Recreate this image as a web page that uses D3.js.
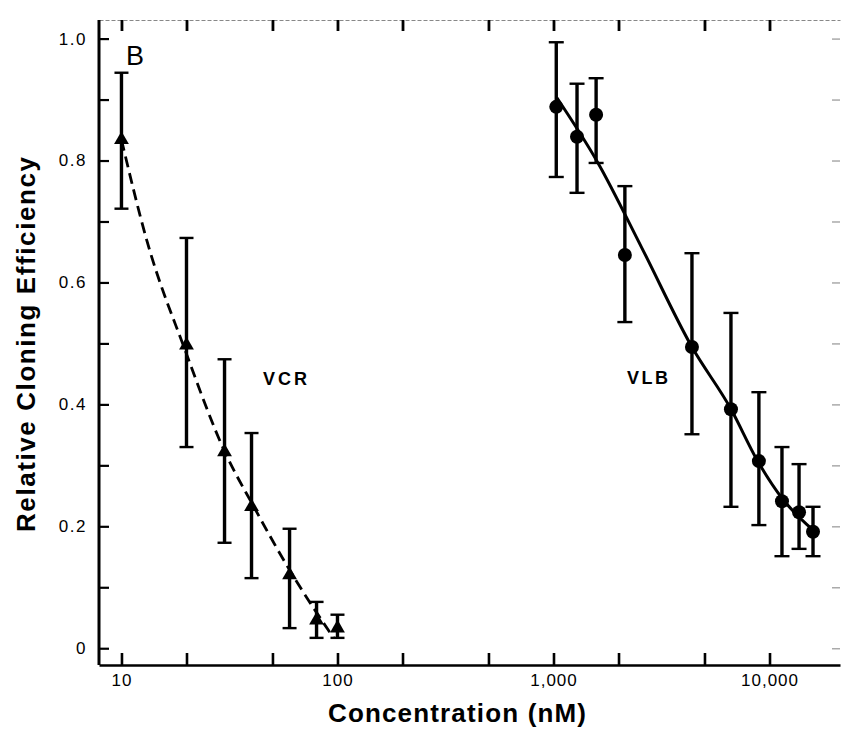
<!DOCTYPE html>
<html>
<head>
<meta charset="utf-8">
<script src="https://cdn.jsdelivr.net/npm/d3@7"></script>
<style>
  body { margin: 0; background: #fff; }
  svg { display: block; font-family: "Liberation Sans", Arial, Helvetica, sans-serif; }
</style>
</head>
<body>
<svg id="chart" width="841" height="730"></svg>
<script>
// Vincristine (VCR): concentration (nM), mean relative cloning efficiency, error bar limits
const vcrConc = [10, 20, 30, 40, 60, 80, 100];
const vcrMean = [0.834, 0.497, 0.322, 0.232, 0.120, 0.046, 0.033];
const vcrHigh = [0.944, 0.673, 0.474, 0.353, 0.196, 0.076, 0.055];
const vcrLow  = [0.721, 0.330, 0.173, 0.115, 0.033, 0.017, 0.017];
// VCR fitted curve (dashed)
const vcrFitConc  = [10, 13.1, 19.7, 30.1, 41, 62, 96];
const vcrFitValue = [0.834, 0.669, 0.489, 0.322, 0.232, 0.120, 0.017];

// Vinblastine (VLB)
const vlbConc = [1030, 1285, 1575, 2140, 4375, 6630, 8930, 11420, 13700, 15900];
const vlbMean = [0.888, 0.839, 0.875, 0.645, 0.494, 0.392, 0.307, 0.241, 0.223, 0.191];
const vlbHigh = [0.994, 0.926, 0.935, 0.758, 0.648, 0.550, 0.420, 0.330, 0.302, 0.232];
const vlbLow  = [0.773, 0.747, 0.796, 0.535, 0.351, 0.232, 0.202, 0.151, 0.163, 0.151];
// VLB fitted curve (solid)
const vlbFitConc  = [1037, 1607, 2570, 4375, 6640, 8750, 11430, 15870];
const vlbFitValue = [0.903, 0.796, 0.656, 0.494, 0.392, 0.309, 0.246, 0.194];

// Axis ticks
const xTicks = [10, 20, 50, 100, 200, 500, 1000, 2000, 5000, 10000];
const xTickLabels = {10: "10", 100: "100", 1000: "1,000", 10000: "10,000"};
const yMajor = [0, 0.2, 0.4, 0.6, 0.8, 1.0];
const yMinor = [0.1, 0.3, 0.5, 0.7, 0.9];
const yAll = [0, 0.1, 0.2, 0.3, 0.4, 0.5, 0.6, 0.7, 0.8, 0.9, 1.0];

const svg = d3.select("#chart");
const frame = {left: 99, right: 840, top: 20, bottom: 665};

const x = d3.scaleLog().domain([7.87, 21200]).range([frame.left, frame.right]);
const y = d3.scaleLinear().domain([-0.0275, 1.0305]).range([frame.bottom, frame.top]);

// Top frame (faint) with inward ticks
const topAxis = svg.append("g")
  .attr("transform", `translate(0,${frame.top})`)
  .call(d3.axisTop(x).tickValues(xTicks).tickSize(-11).tickSizeOuter(0).tickFormat(""));
topAxis.select(".domain").attr("stroke", "#888").attr("stroke-width", 1.2).attr("stroke-dasharray", "4,2");
topAxis.selectAll(".tick line").attr("stroke", "#000").attr("stroke-width", 2.8);

// Right side: faint tick marks only
svg.append("g")
  .attr("transform", `translate(${frame.right - 8},0)`)
  .call(d3.axisRight(y).tickValues(yAll).tickSize(8).tickSizeOuter(0).tickFormat(""))
  .call(g => g.select(".domain").remove())
  .call(g => g.selectAll(".tick line").attr("stroke", "#aaa").attr("stroke-width", 1.5));

// Left axis: major ticks with labels
const leftAxis = svg.append("g")
  .attr("transform", `translate(${frame.left},0)`)
  .call(d3.axisLeft(y).tickValues(yMajor).tickSize(-10).tickSizeOuter(0).tickPadding(12)
    .tickFormat(d => d === 0 ? "0" : d3.format(".1f")(d)));
leftAxis.select(".domain").attr("stroke", "#000").attr("stroke-width", 3)
  .attr("d", `M0,${frame.top}V${frame.bottom}`);
leftAxis.selectAll(".tick line").attr("stroke", "#000").attr("stroke-width", 2.2);
leftAxis.selectAll(".tick text")
  .attr("font-family", "Liberation Sans, Arial, sans-serif")
  .attr("font-size", 17).attr("letter-spacing", 1.5).attr("fill", "#000");

// Left axis: minor ticks
svg.append("g")
  .attr("transform", `translate(${frame.left},0)`)
  .call(d3.axisLeft(y).tickValues(yMinor).tickSize(-10).tickSizeOuter(0).tickFormat(""))
  .call(g => g.select(".domain").remove())
  .call(g => g.selectAll(".tick line").attr("stroke", "#000").attr("stroke-width", 2.2));

// Bottom axis
const bottomAxis = svg.append("g")
  .attr("transform", `translate(0,${frame.bottom})`)
  .call(d3.axisBottom(x).tickValues(xTicks).tickSize(-12).tickSizeOuter(0).tickPadding(9)
    .tickFormat(d => xTickLabels[d] || ""));
bottomAxis.select(".domain").attr("stroke", "#000").attr("stroke-width", 2.6);
bottomAxis.selectAll(".tick line").attr("stroke", "#000").attr("stroke-width", 2.6);
bottomAxis.selectAll(".tick text")
  .attr("font-family", "Liberation Sans, Arial, sans-serif")
  .attr("font-size", 17).attr("letter-spacing", 1).attr("fill", "#000");

// Axis titles
svg.append("text")
  .attr("x", 328).attr("y", 722)
  .attr("font-size", 26).attr("font-weight", "bold")
  .attr("textLength", 258).attr("lengthAdjust", "spacing")
  .text("Concentration (nM)");

svg.append("text")
  .attr("transform", "translate(35,532) rotate(-90)")
  .attr("font-size", 26).attr("font-weight", "bold")
  .attr("textLength", 375).attr("lengthAdjust", "spacing")
  .text("Relative Cloning Efficiency");

// Panel letter and series labels
svg.append("text").attr("x", 126).attr("y", 65).attr("font-size", 27).text("B");
svg.append("text").attr("x", 263).attr("y", 385).attr("font-size", 18).attr("font-weight", "bold")
  .attr("textLength", 44).attr("lengthAdjust", "spacing").text("VCR");
svg.append("text").attr("x", 627).attr("y", 384).attr("font-size", 18).attr("font-weight", "bold")
  .attr("textLength", 41).attr("lengthAdjust", "spacing").text("VLB");

// Fitted curves
const fitLine = d3.line().x(d => x(d[0])).y(d => y(d[1])).curve(d3.curveMonotoneX);

svg.append("path")
  .datum(d3.zip(vcrFitConc, vcrFitValue))
  .attr("d", fitLine)
  .attr("fill", "none").attr("stroke", "#000").attr("stroke-width", 2.8)
  .attr("stroke-dasharray", "11,6");

svg.append("path")
  .datum(d3.zip(vlbFitConc, vlbFitValue))
  .attr("d", fitLine)
  .attr("fill", "none").attr("stroke", "#000").attr("stroke-width", 3);

// Error bars
function errorBars(conc, low, high, capW) {
  const data = conc.map((c, i) => ({c, lo: low[i], hi: high[i]}));
  const g = svg.append("g").attr("stroke", "#000");
  g.selectAll("line.stem").data(data).join("line").attr("class", "stem")
    .attr("x1", d => x(d.c)).attr("x2", d => x(d.c))
    .attr("y1", d => y(d.lo)).attr("y2", d => y(d.hi))
    .attr("stroke-width", 3.4);
  g.selectAll("line.capHi").data(data).join("line").attr("class", "capHi")
    .attr("x1", d => x(d.c) - capW / 2).attr("x2", d => x(d.c) + capW / 2)
    .attr("y1", d => y(d.hi)).attr("y2", d => y(d.hi))
    .attr("stroke-width", 2.4);
  g.selectAll("line.capLo").data(data).join("line").attr("class", "capLo")
    .attr("x1", d => x(d.c) - capW / 2).attr("x2", d => x(d.c) + capW / 2)
    .attr("y1", d => y(d.lo)).attr("y2", d => y(d.lo))
    .attr("stroke-width", 2.4);
}
errorBars(vcrConc, vcrLow, vcrHigh, 14);
errorBars(vlbConc, vlbLow, vlbHigh, 15);

// VCR markers: filled triangles
const tri = d3.symbol().type(d3.symbolTriangle).size(95);
svg.append("g").selectAll("path")
  .data(d3.zip(vcrConc, vcrMean))
  .join("path")
  .attr("d", tri)
  .attr("transform", d => `translate(${x(d[0])},${y(d[1])})`)
  .attr("fill", "#000");

// VLB markers: filled circles
svg.append("g").selectAll("circle")
  .data(d3.zip(vlbConc, vlbMean))
  .join("circle")
  .attr("cx", d => x(d[0])).attr("cy", d => y(d[1]))
  .attr("r", 7)
  .attr("fill", "#000");
</script>
</body>
</html>
